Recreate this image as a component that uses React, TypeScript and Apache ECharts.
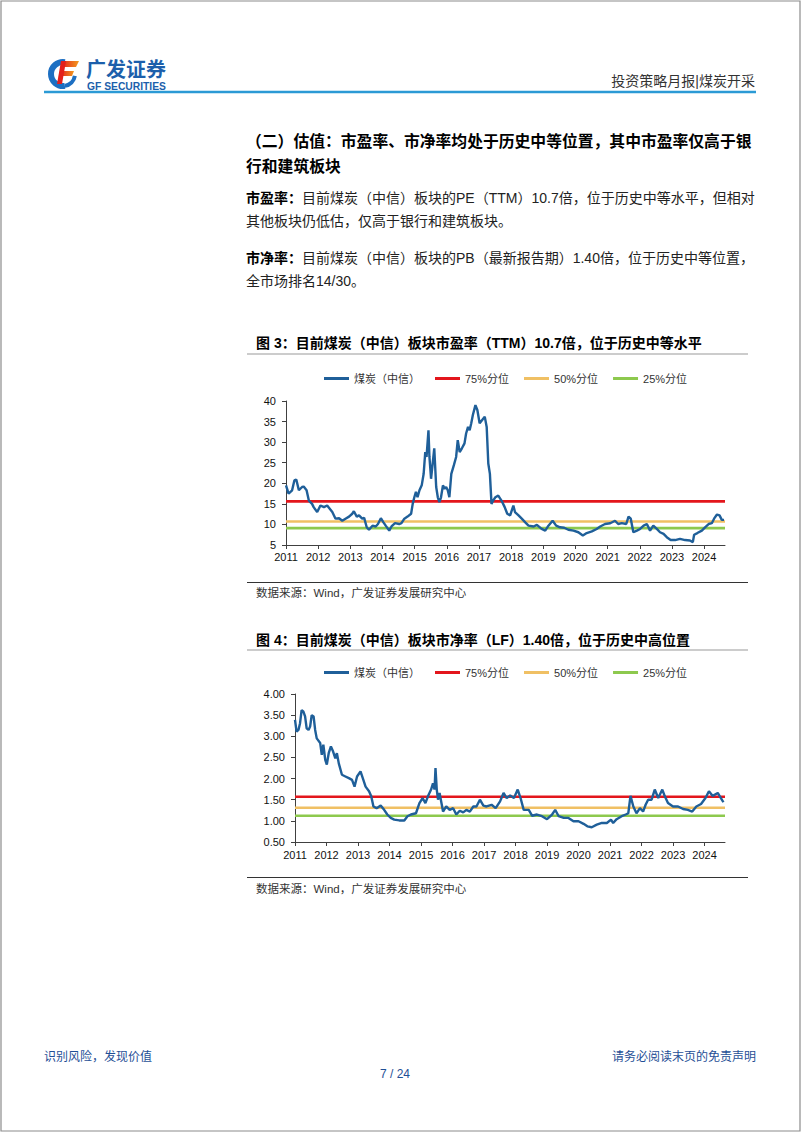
import React, { useEffect, useRef } from "react";
import * as echarts from "echarts";

const FONT = "'Liberation Sans', Arial, 'Noto Sans CJK SC', sans-serif";

const legendNames = ["煤炭（中信）", "75%分位", "50%分位", "25%分位"];
const lineColors = ["#1f5f99", "#e3161c", "#f0c064", "#8dc94e"];
const yearTicks = [2011, 2012, 2013, 2014, 2015, 2016, 2017, 2018, 2019, 2020, 2021, 2022, 2023, 2024];
const xStart = 2011;
const xEnd = 2024.65;

// 图3 市盈率（TTM）
const peYears = [
  2011.0, 2011.08, 2011.19, 2011.26, 2011.32, 2011.4, 2011.5, 2011.55, 2011.64, 2011.71, 2011.81, 2011.86, 2011.97,
  2012.07, 2012.18, 2012.28, 2012.36, 2012.44, 2012.54, 2012.65, 2012.75, 2012.85, 2012.96,
  2013.06, 2013.11, 2013.2, 2013.27, 2013.37, 2013.43, 2013.51, 2013.58, 2013.69, 2013.79, 2013.86, 2013.95,
  2014.03, 2014.1, 2014.21, 2014.28, 2014.39, 2014.52, 2014.59, 2014.68, 2014.78, 2014.89, 2014.94, 2014.99,
  2015.04, 2015.09, 2015.15, 2015.22, 2015.28, 2015.33, 2015.37, 2015.43, 2015.46, 2015.51, 2015.56, 2015.61,
  2015.67, 2015.72, 2015.77, 2015.82, 2015.88, 2015.93, 2015.98,
  2016.03, 2016.08, 2016.14, 2016.22, 2016.29, 2016.34, 2016.4, 2016.47, 2016.55, 2016.6, 2016.66, 2016.71,
  2016.76, 2016.81, 2016.89, 2016.95,
  2017.02, 2017.1, 2017.18, 2017.24, 2017.29, 2017.34, 2017.39, 2017.44, 2017.51, 2017.6, 2017.7, 2017.8, 2017.88, 2017.97,
  2018.07, 2018.12, 2018.23, 2018.33, 2018.44, 2018.54, 2018.7, 2018.8, 2018.95,
  2019.06, 2019.16, 2019.29, 2019.4, 2019.52, 2019.65, 2019.78, 2019.94,
  2020.09, 2020.23, 2020.35, 2020.51, 2020.66, 2020.77, 2020.92,
  2021.08, 2021.23, 2021.33, 2021.44, 2021.58, 2021.65, 2021.72, 2021.8, 2021.91,
  2022.01, 2022.12, 2022.22, 2022.32, 2022.42, 2022.53, 2022.63, 2022.74, 2022.84, 2022.96,
  2023.1, 2023.25, 2023.41, 2023.56, 2023.65, 2023.69, 2023.79, 2023.93,
  2024.03, 2024.14, 2024.24, 2024.31, 2024.4, 2024.48, 2024.55, 2024.62,
];
const peValues = [
  19.5, 17.5, 18.3, 20.7, 20.9, 18.3, 19.1, 19.2, 18.3, 15.8, 15.0, 14.2, 13.0,
  14.6, 14.2, 14.6, 13.8, 13.0, 11.4, 11.5, 10.9, 11.4, 11.9,
  12.6, 13.2, 11.9, 12.2, 11.4, 11.6, 9.3, 8.7, 9.7, 9.5, 10.1, 11.5,
  10.5, 9.7, 8.5, 9.5, 10.3, 10.1, 10.3, 11.4, 11.9, 12.6, 15.0, 16.6,
  17.9, 16.6, 18.3, 19.5, 22.3, 27.6, 26.4, 32.9, 26.4, 21.1, 24.8, 28.5,
  19.1, 16.6, 15.4, 16.6, 19.5, 18.7, 19.1,
  18.3, 16.6, 22.3, 24.4, 26.4, 30.5, 27.6, 28.5, 29.7, 32.1, 33.7, 32.9,
  34.6, 36.6, 39.0, 37.8,
  34.6, 35.4, 36.2, 33.7, 24.8, 22.3, 15.0, 15.8, 16.6, 17.0, 15.8, 14.2, 12.6, 12.2,
  14.6, 13.0, 12.2, 11.4, 10.5, 9.7, 9.5, 9.9, 8.9,
  8.5, 9.7, 10.9, 9.7, 9.3, 9.2, 8.7, 8.5,
  8.1, 7.3, 7.9, 8.3, 8.9, 9.5, 10.1,
  10.3, 10.9, 10.1, 10.3, 10.1, 11.9, 11.4, 8.1, 8.5,
  8.9, 9.7, 10.1, 8.5, 9.7, 8.9, 8.1, 7.7, 6.9, 6.2,
  6.2, 6.5, 6.2, 6.1, 5.7, 7.5, 7.9, 8.5,
  9.3, 10.1, 10.3, 11.4, 12.4, 12.2, 11.1, 11.1,
];
const pePercentiles = [15.6, 10.7, 9.1];
const peAxis = { min: 5, max: 40, interval: 5 };

// 图4 市净率（LF）
const pbYears = [
  2011.0, 2011.05, 2011.11, 2011.16, 2011.21, 2011.27, 2011.32, 2011.37, 2011.43, 2011.48, 2011.53, 2011.59, 2011.64,
  2011.69, 2011.8, 2011.85, 2011.9, 2011.96,
  2012.01, 2012.07, 2012.14, 2012.21, 2012.28, 2012.33, 2012.39, 2012.49, 2012.6, 2012.71, 2012.81, 2012.89, 2012.97,
  2013.08, 2013.17, 2013.24, 2013.35, 2013.42, 2013.49, 2013.59, 2013.72, 2013.83, 2013.93,
  2014.04, 2014.15, 2014.31, 2014.47, 2014.57, 2014.68, 2014.84, 2014.95,
  2015.05, 2015.14, 2015.22, 2015.32, 2015.38, 2015.43, 2015.46, 2015.5, 2015.54, 2015.59, 2015.64, 2015.7, 2015.8, 2015.91,
  2016.02, 2016.12, 2016.23, 2016.34, 2016.44, 2016.55, 2016.66, 2016.76, 2016.87, 2016.98,
  2017.08, 2017.24, 2017.37, 2017.51, 2017.62, 2017.72, 2017.83, 2017.95,
  2018.07, 2018.16, 2018.26, 2018.42, 2018.53, 2018.68, 2018.84,
  2019.0, 2019.16, 2019.26, 2019.37, 2019.53, 2019.68, 2019.84,
  2020.0, 2020.16, 2020.28, 2020.42, 2020.58, 2020.74, 2020.9,
  2021.03, 2021.1, 2021.21, 2021.37, 2021.5, 2021.58, 2021.65, 2021.74, 2021.84, 2021.95,
  2022.05, 2022.13, 2022.21, 2022.32, 2022.42, 2022.53, 2022.66, 2022.74, 2022.84,
  2023.0, 2023.16, 2023.32, 2023.47, 2023.61, 2023.74, 2023.89,
  2024.03, 2024.14, 2024.26, 2024.42, 2024.52, 2024.6,
];
const pbValues = [
  3.39, 3.11, 3.15, 3.31, 3.62, 3.58, 3.47, 3.19, 3.15, 3.23, 3.5, 3.47, 3.15,
  2.95, 2.84, 2.56, 2.8, 2.44,
  2.33, 2.6, 2.76, 2.64, 2.48, 2.6, 2.36, 2.09, 2.05, 2.01, 1.97, 1.81, 2.05,
  2.17, 1.97, 1.81, 1.7, 1.58, 1.34, 1.3, 1.36, 1.26, 1.15,
  1.07, 1.03, 1.01, 1.01, 1.11, 1.15, 1.18, 1.42,
  1.54, 1.42, 1.58, 1.74, 1.89, 1.74, 2.25, 1.74, 1.5, 1.66, 1.46, 1.22, 1.34, 1.26,
  1.3, 1.15, 1.24, 1.2, 1.26, 1.22, 1.34, 1.34, 1.5, 1.36,
  1.34, 1.38, 1.3, 1.46, 1.66, 1.54, 1.6, 1.54,
  1.74, 1.54, 1.26, 1.26, 1.12, 1.15, 1.11,
  1.04, 1.15, 1.26, 1.11, 1.07, 1.07, 0.99,
  0.99, 0.93, 0.87, 0.85, 0.91, 0.95, 0.95,
  1.03, 0.95, 1.04, 1.11, 1.15, 1.18, 1.59, 1.34, 1.18, 1.3,
  1.22, 1.38, 1.5, 1.5, 1.74, 1.54, 1.74, 1.58, 1.42,
  1.34, 1.34, 1.28, 1.26, 1.22, 1.34, 1.4,
  1.54, 1.7, 1.59, 1.66, 1.54, 1.44,
];
const pbPercentiles = [1.57, 1.31, 1.12];
const pbAxis = { min: 0.5, max: 4, interval: 0.5 };

function buildSeries(years: number[], values: number[], pcts: number[], idx: number) {
  const main = {
    type: "line",
    name: legendNames[0],
    xAxisIndex: idx,
    yAxisIndex: idx,
    data: years.map((t, i) => [t, values[i]]),
    symbol: "none",
    showSymbol: false,
    lineStyle: { color: lineColors[0], width: 2.4 },
    itemStyle: { color: lineColors[0] },
    z: 4,
  };
  const refs = pcts.map((p, k) => ({
    type: "line",
    name: legendNames[k + 1],
    xAxisIndex: idx,
    yAxisIndex: idx,
    data: [
      [xStart, p],
      [xEnd, p],
    ],
    symbol: "none",
    showSymbol: false,
    lineStyle: { color: lineColors[k + 1], width: 2.6 },
    itemStyle: { color: lineColors[k + 1] },
    z: 3,
  }));
  return [main, ...refs];
}

function makeX(idx: number, margin: number) {
  return {
    type: "value",
    gridIndex: idx,
    min: xStart,
    max: xEnd,
    axisLine: { show: true, onZero: false, lineStyle: { color: "#404040", width: 1 } },
    axisTick: { show: true, customValues: yearTicks, length: 4, lineStyle: { color: "#404040" } },
    axisLabel: {
      customValues: yearTicks,
      formatter: (v: number) => String(Math.round(v)),
      fontSize: 11,
      color: "#111",
      margin,
      fontFamily: FONT,
    },
    splitLine: { show: false },
  };
}

function makeY(idx: number, ax: { min: number; max: number; interval: number }, digits: number) {
  return {
    type: "value",
    gridIndex: idx,
    min: ax.min,
    max: ax.max,
    interval: ax.interval,
    axisLine: { show: true, lineStyle: { color: "#404040", width: 1 } },
    axisTick: { show: true, length: 4, lineStyle: { color: "#404040" } },
    axisLabel: {
      formatter: (v: number) => v.toFixed(digits),
      fontSize: 11,
      color: "#111",
      margin: 10,
      fontFamily: FONT,
    },
    splitLine: { show: false },
  };
}

function makeLegend(top: number) {
  return {
    left: 319,
    top,
    icon: "rect",
    itemWidth: 25,
    itemHeight: 3,
    itemGap: 15,
    data: legendNames,
    textStyle: { fontSize: 11, color: "#333", fontFamily: FONT },
  };
}

function txt(text: string, x: number, y: number, size: number, opts: any = {}) {
  return {
    type: "text",
    x,
    y,
    silent: true,
    style: {
      text,
      fill: opts.fill || "#111",
      fontSize: size,
      fontWeight: opts.bold ? "bold" : "normal",
      fontFamily: opts.family || FONT,
      align: opts.align || "left",
      verticalAlign: "middle",
    },
  };
}

function hline(x1: number, x2: number, y: number, color: string, w: number) {
  return {
    type: "line",
    silent: true,
    shape: { x1, y1: y, x2, y2: y },
    style: { stroke: color, lineWidth: w },
  };
}

const fGrad = {
  type: "linear",
  x: 0,
  y: 0,
  x2: 1,
  y2: 0,
  colorStops: [
    { offset: 0, color: "#e3201c" },
    { offset: 1, color: "#f39a1f" },
  ],
};

const graphics: any[] = [
  { type: "rect", silent: true, shape: { x: 1, y: 1, width: 799, height: 1130 }, style: { fill: "none", stroke: "#8c8c8c", lineWidth: 1.2 } },
  // logo emblem
  { type: "arc", silent: true, shape: { cx: 63, cy: 74, r: 12, startAngle: Math.PI * 0.45, endAngle: Math.PI * 1.55 }, style: { stroke: "#1d6fc2", lineWidth: 6, fill: "none" } },
  { type: "polygon", silent: true, shape: { points: [[62, 61], [79, 61], [76, 67], [61, 67]] }, style: { fill: fGrad } },
  { type: "polygon", silent: true, shape: { points: [[61, 71], [74, 71], [72, 76], [60, 76]] }, style: { fill: fGrad } },
  { type: "polygon", silent: true, shape: { points: [[61, 61], [66, 61], [62, 84], [57, 84]] }, style: { fill: "#e3201c" } },
  { type: "arc", silent: true, shape: { cx: 63, cy: 74, r: 12, startAngle: Math.PI * 0.05, endAngle: Math.PI * 0.45 }, style: { stroke: "#1d6fc2", lineWidth: 4, fill: "none" } },
  txt("广发证券", 86, 70, 20, { bold: true, fill: "#1c5fab" }),
  txt("GF SECURITIES", 87, 86, 10.3, { bold: true, fill: "#1c5fab" }),
  txt("投资策略月报|煤炭开采", 755, 81, 14, { fill: "#333", align: "right" }),
  hline(44, 756, 92, "#2b9ad5", 2.5),
  // heading
  txt("（二）估值：市盈率、市净率均处于历史中等位置，其中市盈率仅高于银", 246, 141, 15.8, { bold: true, fill: "#000" }),
  txt("行和建筑板块", 246, 166, 15.8, { bold: true, fill: "#000" }),
  // paragraphs
  txt("市盈率：", 246, 198, 14, { bold: true, fill: "#000" }),
  txt("目前煤炭（中信）板块的PE（TTM）10.7倍，位于历史中等水平，但相对", 302, 198, 14, { fill: "#222" }),
  txt("其他板块仍低估，仅高于银行和建筑板块。", 246, 221, 14, { fill: "#222" }),
  txt("市净率：", 246, 258, 14, { bold: true, fill: "#000" }),
  txt("目前煤炭（中信）板块的PB（最新报告期）1.40倍，位于历史中等位置，", 302, 258, 14, { fill: "#222" }),
  txt("全市场排名14/30。", 246, 281, 14, { fill: "#222" }),
  // figure 3
  txt("图 3：目前煤炭（中信）板块市盈率（TTM）10.7倍，位于历史中等水平", 256, 343, 14, { bold: true, fill: "#000" }),
  hline(247, 748, 354, "#9a9a9a", 1.2),
  hline(247, 748, 582.5, "#333", 1),
  txt("数据来源：Wind，广发证券发展研究中心", 256, 593, 11.5, { fill: "#333" }),
  // figure 4
  txt("图 4：目前煤炭（中信）板块市净率（LF）1.40倍，位于历史中高位置", 256, 640, 14, { bold: true, fill: "#000" }),
  hline(247, 748, 650, "#9a9a9a", 1.2),
  hline(247, 748, 877.5, "#333", 1),
  txt("数据来源：Wind，广发证券发展研究中心", 256, 889, 11.5, { fill: "#333" }),
  // footer
  txt("识别风险，发现价值", 44, 1057, 12, { fill: "#1f4f96" }),
  txt("请务必阅读末页的免责声明", 756, 1057, 12, { fill: "#1f4f96", align: "right" }),
  txt("7 / 24", 395, 1074, 12, { fill: "#1f4f96", align: "center" }),
];

export default function App() {
  const ref = useRef<HTMLDivElement>(null);
  useEffect(() => {
    if (!ref.current) return;
    const chart = echarts.init(ref.current, null, { renderer: "svg" });
    chart.setOption({
      animation: false,
      backgroundColor: "#fff",
      textStyle: { fontFamily: FONT },
      graphic: { elements: graphics },
      legend: [makeLegend(368), makeLegend(662)],
      grid: [
        { left: 286, top: 401, width: 439, height: 144 },
        { left: 295, top: 694, width: 430, height: 148 },
      ],
      xAxis: [makeX(0, 6), makeX(1, 7)],
      yAxis: [makeY(0, peAxis, 0), makeY(1, pbAxis, 2)],
      series: [
        ...buildSeries(peYears, peValues, pePercentiles, 0),
        ...buildSeries(pbYears, pbValues, pbPercentiles, 1),
      ],
    });
    return () => chart.dispose();
  }, []);
  return (
    <div
      ref={ref}
      style={{ position: "absolute", left: 0, top: 0, width: 802, height: 1133, background: "#fff" }}
    />
  );
}
